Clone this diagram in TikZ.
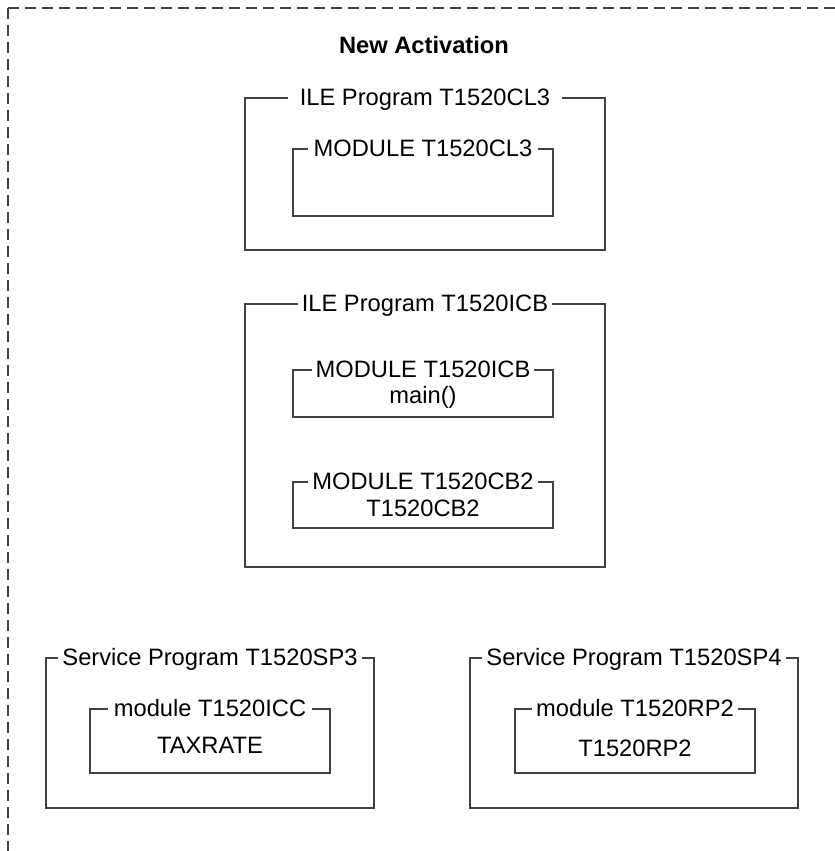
\documentclass[tikz,border=0pt]{standalone}
\usepackage{fontspec}
\setmainfont{Liberation Sans}
\usetikzlibrary{positioning}
\tikzset{
    frame/.style={
        draw=black!75,
        line width=1.3bp,
        dash pattern=on 11bp off 6bp
    },
    progbox/.style={
        rectangle,
        draw=black!75,
        line width=1.2bp,
        inner sep=0pt
    },
    boxtitle/.style={
        fill=white,
        inner xsep=4bp,
        inner ysep=1bp,
        text height=17bp,
        text depth=0bp,
        font=\fontsize{23.7bp}{28bp}\selectfont
    },
    content/.style={
        inner sep=0pt,
        font=\fontsize{23.7bp}{28bp}\selectfont
    }
}

\begin{document}
\begin{tikzpicture}[x=1bp, y=-1bp]
            \useasboundingbox (0,0) rectangle (835,851);

            % Activation frame
            \coordinate (tr) at (835,8);
            \coordinate (tl) at (8,8);
            \coordinate (bl) at (8,851);
            \draw[frame] (tl) -- (tr);
            \draw[frame] (tl) -- (bl);
            \node[content, font=\fontsize{23.7bp}{28bp}\selectfont\bfseries] (act) at (424,45) {New Activation};

            % ILE program T1520CL3
            \node[progbox, minimum width=360bp, minimum height=152bp] (cl3prog) at (425,174) {};
            \node[progbox, minimum width=260bp, minimum height=67bp] (cl3mod) at (423,182.5) {};
            \node[boxtitle, inner xsep=12bp] at (cl3prog.north) {ILE Program T1520CL3};
            \node[boxtitle, inner xsep=6bp] at (cl3mod.north) {MODULE T1520CL3};

            % ILE program T1520ICB
            \node[progbox, minimum width=360bp, minimum height=263bp] (icbprog) at (425,435.5) {};
            \node[progbox, minimum width=260bp, minimum height=47bp] (icbmod) at (423,393.5) {};
            \node[progbox, minimum width=260bp, minimum height=46bp] (cb2mod) at (423,505) {};
            \node[boxtitle] at (icbprog.north) {ILE Program T1520ICB};
            \node[boxtitle] at (icbmod.north) {MODULE T1520ICB};
            \node[boxtitle] at (cb2mod.north) {MODULE T1520CB2};
            \node[content] (icbmain) at (423,397) {main()};
            \node[content] (cb2proc) at (423,508) {T1520CB2};

            % Service programs
            \node[progbox, minimum width=328bp, minimum height=150bp] (sp3prog) at (210,733) {};
            \node[progbox, minimum width=240bp, minimum height=64bp] (iccmod) at (210,741) {};
            \node[boxtitle] at (sp3prog.north) {Service Program T1520SP3};
            \node[boxtitle, inner xsep=6bp] at (iccmod.north) {module T1520ICC};
            \node[content] (taxrate) at (210,745) {TAXRATE};

            \node[progbox, minimum width=328bp, minimum height=150bp] (sp4prog) at (634,733) {};
            \node[progbox, minimum width=240bp, minimum height=64bp] (rp2mod) at (635,741) {};
            \node[boxtitle] at (sp4prog.north) {Service Program T1520SP4};
            \node[boxtitle] at (rp2mod.north) {module T1520RP2};
            \node[content] (rp2proc) at (635,748) {T1520RP2};
\end{tikzpicture}
\end{document}
